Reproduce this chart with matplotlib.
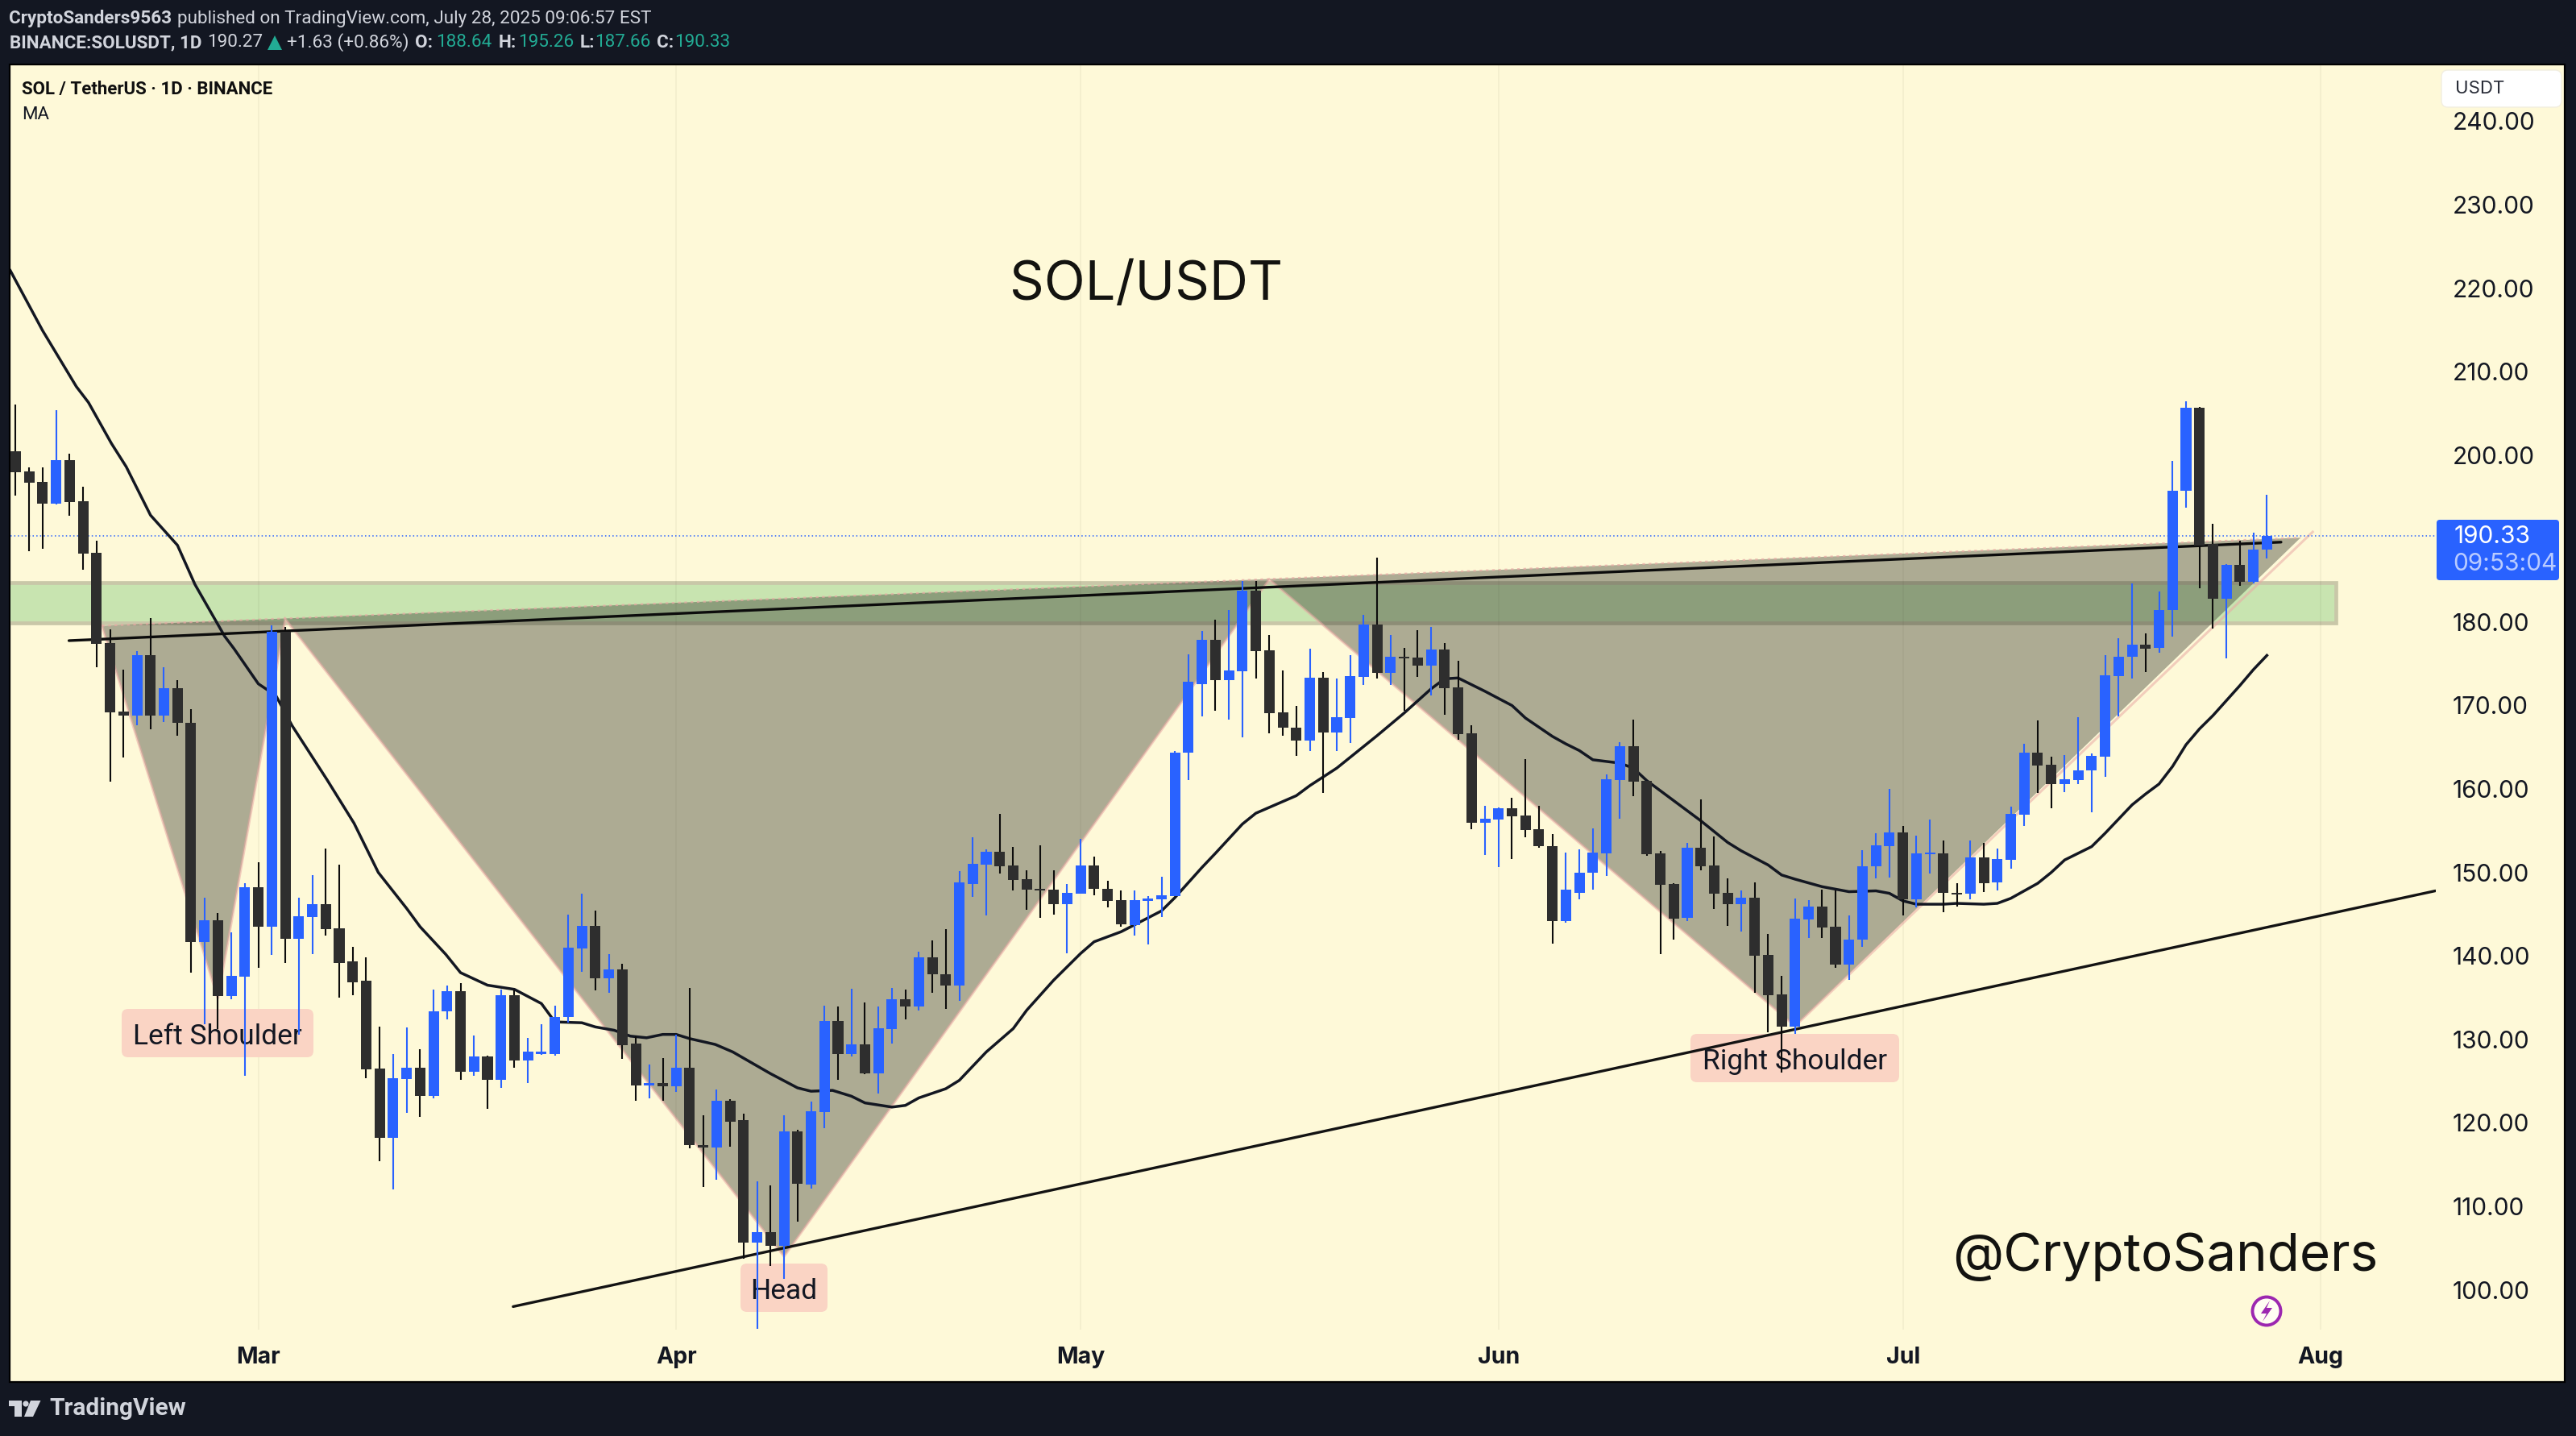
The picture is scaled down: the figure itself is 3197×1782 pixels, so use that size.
"""SOL/USDT daily candles with an inverse head and shoulders, TradingView style."""
import matplotlib
matplotlib.use("Agg")
import matplotlib.pyplot as plt
import numpy as np
from matplotlib.patches import Circle, FancyBboxPatch, Polygon, Rectangle

# days are counted from Mar 1 2025; the first bar is Feb 11
first_day = -18
opens = [
    200.5, 198.0, 196.8, 194.2, 199.4, 194.5, 188.3, 177.5, 169.3, 168.8,
    176.0, 168.8, 172.1, 167.9, 141.7, 144.3, 135.2, 137.5, 148.2, 143.5,
    178.8, 142.1, 144.7, 146.2, 143.3, 139.4, 137.0, 126.5, 118.2, 125.3,
    126.6, 123.2, 133.4, 135.8, 126.1, 128.0, 125.2, 135.3, 127.5, 128.3,
    128.3, 132.7, 140.9, 143.6, 137.3, 138.4, 129.5, 124.5, 124.8, 124.4,
    126.6, 117.3, 117.1, 122.7, 120.3, 105.7, 106.9, 105.3, 119.0, 112.6,
    121.3, 132.2, 128.3, 129.4, 125.9, 131.2, 134.8, 133.9, 139.8, 137.8,
    136.5, 148.6, 150.9, 152.5, 150.8, 149.2, 148.0, 147.9, 146.2, 147.5,
    150.8, 148.0, 146.7, 143.7, 146.6, 146.8, 147.2, 164.4, 172.6, 177.9,
    173.0, 174.1, 183.8, 176.6, 169.2, 167.3, 165.8, 173.3, 166.8, 168.5,
    173.4, 179.7, 173.9, 175.8, 175.7, 174.8, 176.7, 172.2, 166.7, 156.0,
    156.3, 157.7, 156.8, 155.2, 153.2, 144.2, 147.6, 150.0, 152.3, 161.1,
    165.1, 161.0, 152.3, 148.6, 144.6, 153.0, 150.8, 147.6, 146.2, 147.0,
    140.1, 135.4, 131.5, 144.4, 145.9, 143.5, 139.0, 142.0, 150.7, 153.2,
    154.8, 146.8, 152.2, 152.3, 147.6, 147.5, 151.8, 148.8, 151.5, 156.9,
    164.4, 162.9, 160.6, 161.1, 162.2, 163.9, 173.5, 175.8, 177.3, 176.9,
    181.4, 195.7, 205.7, 189.4, 182.8, 186.8, 184.8, 188.64,
]
highs = [
    206.1, 198.5, 198.5, 205.4, 200.2, 196.2, 189.7, 179.1, 174.3, 176.5,
    180.5, 174.6, 173.0, 169.6, 147.0, 145.1, 142.8, 148.7, 151.2, 179.6,
    179.4, 147.0, 149.7, 152.9, 150.9, 141.1, 139.8, 131.5, 128.3, 131.4,
    128.8, 136.0, 136.5, 136.7, 130.5, 128.1, 136.0, 136.0, 130.2, 131.8,
    134.0, 145.0, 147.5, 145.4, 140.2, 139.1, 130.4, 127.0, 127.8, 130.6,
    136.2, 120.9, 124.0, 122.8, 121.1, 113.0, 112.5, 120.9, 119.2, 122.6,
    134.0, 133.9, 136.1, 134.4, 133.9, 136.2, 136.0, 140.5, 141.9, 143.2,
    150.2, 154.2, 152.8, 157.0, 153.1, 150.3, 153.3, 150.3, 148.6, 154.0,
    151.9, 149.0, 147.8, 147.8, 147.2, 149.5, 164.5, 176.1, 178.9, 180.3,
    181.4, 184.9, 184.9, 178.4, 174.2, 170.0, 176.8, 174.0, 173.2, 176.0,
    180.9, 187.7, 178.4, 176.9, 179.0, 179.4, 177.5, 175.4, 167.6, 158.0,
    157.8, 158.9, 163.6, 158.0, 154.6, 152.4, 152.8, 155.3, 161.7, 165.6,
    168.3, 161.0, 152.6, 148.7, 153.5, 158.8, 154.3, 149.3, 147.8, 148.8,
    142.6, 137.6, 146.9, 146.7, 147.9, 147.8, 144.9, 152.7, 154.7, 160.0,
    155.6, 154.4, 156.3, 153.8, 148.7, 153.8, 153.5, 152.9, 157.9, 165.4,
    168.2, 163.9, 164.1, 168.6, 164.3, 176.0, 178.1, 184.6, 178.6, 183.7,
    199.3, 206.4, 205.8, 191.8, 186.9, 189.7, 190.7, 195.26,
]
lows = [
    195.1, 188.5, 188.8, 194.1, 192.7, 186.3, 174.6, 160.9, 163.8, 167.6,
    167.2, 168.0, 166.4, 138.0, 131.8, 131.2, 134.8, 125.6, 138.6, 140.1,
    139.2, 130.6, 140.2, 142.4, 135.0, 135.3, 125.4, 115.4, 112.0, 121.2,
    120.7, 122.9, 132.4, 125.2, 125.6, 121.7, 124.2, 126.6, 124.8, 128.2,
    128.1, 132.0, 138.1, 135.9, 135.6, 127.7, 122.7, 122.9, 122.7, 123.7,
    117.0, 112.3, 113.2, 117.2, 103.7, 95.3, 102.9, 101.3, 108.2, 112.1,
    119.4, 125.2, 128.0, 125.8, 123.5, 129.5, 132.4, 133.5, 135.6, 133.7,
    134.6, 147.1, 144.9, 149.9, 147.8, 145.5, 144.6, 145.0, 140.3, 147.5,
    147.3, 145.8, 143.5, 142.4, 141.4, 144.7, 147.2, 161.1, 168.7, 169.4,
    168.3, 166.2, 173.2, 166.7, 166.4, 164.0, 164.5, 159.5, 164.5, 165.5,
    172.5, 173.2, 172.5, 169.4, 173.4, 171.2, 168.9, 165.9, 155.2, 152.1,
    150.6, 151.6, 154.2, 153.0, 141.5, 144.0, 146.8, 147.9, 149.6, 156.4,
    159.1, 152.0, 140.2, 142.0, 144.2, 150.3, 145.6, 143.6, 142.9, 135.6,
    130.9, 126.0, 130.7, 142.2, 142.2, 138.6, 137.1, 141.1, 149.3, 149.4,
    144.9, 145.8, 149.9, 145.2, 145.9, 146.8, 147.7, 147.8, 150.5, 155.6,
    159.5, 157.7, 159.6, 160.6, 157.2, 161.5, 168.7, 173.2, 174.0, 176.3,
    178.3, 193.7, 184.0, 179.2, 175.6, 184.3, 184.6, 187.66,
]
closes = [
    197.9, 196.7, 194.2, 199.4, 194.4, 188.2, 177.4, 169.2, 168.8, 176.0,
    168.8, 172.1, 167.9, 141.7, 144.3, 135.2, 137.6, 148.2, 143.5, 178.8,
    142.1, 144.8, 146.2, 143.2, 139.2, 136.8, 126.4, 118.2, 125.4, 126.6,
    123.2, 133.4, 135.8, 126.1, 128.0, 125.2, 135.3, 127.5, 128.5, 128.5,
    132.7, 141.0, 143.6, 137.3, 138.4, 129.3, 124.5, 124.8, 124.4, 126.6,
    117.3, 117.1, 122.7, 120.1, 105.7, 106.9, 105.3, 119.0, 112.7, 121.4,
    132.2, 128.3, 129.4, 125.9, 131.3, 134.8, 133.9, 139.8, 137.8, 136.5,
    148.8, 151.0, 152.5, 150.7, 149.1, 147.9, 147.8, 146.2, 147.6, 150.8,
    148.0, 146.6, 143.8, 146.7, 146.9, 147.3, 164.4, 172.8, 177.9, 173.0,
    174.2, 183.8, 176.5, 169.1, 167.3, 165.8, 173.3, 166.8, 168.6, 173.5,
    179.7, 173.9, 175.8, 175.6, 174.8, 176.7, 172.1, 166.6, 156.0, 156.4,
    157.7, 156.7, 155.1, 153.2, 144.2, 147.9, 150.0, 152.4, 161.2, 165.1,
    160.9, 152.2, 148.5, 144.5, 153.0, 150.7, 147.5, 146.2, 147.0, 140.0,
    135.3, 131.5, 144.5, 145.9, 143.4, 139.0, 142.0, 150.7, 153.3, 154.8,
    146.8, 152.3, 152.4, 147.6, 147.4, 151.8, 148.7, 151.6, 157.0, 164.4,
    162.8, 160.6, 161.2, 162.2, 164.0, 173.6, 175.8, 177.3, 176.8, 181.4,
    195.7, 205.7, 189.2, 182.8, 186.8, 184.8, 188.7, 190.33,
]

ma_days = [
    -18.4, -16, -13.5, -12.6, -10.9, -9.8, -8, -6, -4.7, -2.5, -1.8, 0, 1.3, 2.5, 5.1, 7.1, 8.9,
    11, 12, 13.9, 15, 17, 19, 21, 22, 24, 25, 26.4, 27.6, 28.8, 30, 31, 32, 33.9, 35.2, 38,
    40, 41, 42.6, 44, 45, 47, 48, 49, 51, 52, 54, 56, 57, 59, 61, 62, 64, 67, 68, 70, 71, 73,
    74, 77, 78, 80, 81, 82, 83, 85, 87, 88, 89, 91, 93, 94, 96, 97, 98, 99, 101, 102, 103,
    105, 107, 109, 110, 112, 113, 114, 116, 118, 120, 121, 122, 123, 125, 126, 128, 129,
    130, 132, 133, 134, 136, 137, 138, 139, 140, 141, 142, 143, 144, 145, 146, 147, 148, 149,
]
ma_values = [
    222.1, 214.9, 208.2, 206.3, 201.4, 198.6, 192.8, 189.2, 184.5, 178.3, 176.8, 172.6, 171.2, 167.6, 161.1, 155.9, 150.0,
    145.7, 143.5, 140.2, 138.0, 136.5, 136.0, 134.3, 132.1, 132.0, 131.5, 131.1, 130.4, 130.2, 130.6, 130.6, 130.1, 129.4, 128.5, 125.9,
    124.2, 123.8, 123.9, 123.2, 122.4, 121.9, 122.1, 123.0, 124.1, 125.1, 128.5, 131.3, 133.5, 137.1, 140.3, 141.7, 142.9, 145.4, 147.0, 150.6, 152.3, 155.8,
    157.1, 159.2, 160.4, 162.5, 163.8, 165.1, 166.4, 169.1, 172.0, 173.2, 173.3, 171.7, 170.0, 168.5, 166.3, 165.4, 164.6, 163.5, 163.1, 162.5, 161.0,
    158.6, 156.2, 153.6, 152.6, 150.9, 149.7, 149.2, 148.3, 147.7, 147.8, 147.5, 146.6, 146.2, 146.2, 146.3, 146.2, 146.3,
    146.9, 148.7, 150.0, 151.5, 153.1, 154.7, 156.4, 158.1, 159.4, 160.6, 162.7, 165.3, 167.2, 168.8, 170.6, 172.4, 174.3, 176.0,
]

# head and shoulders drawing: left start, L shoulder, neck, head, neck, R shoulder, end
pattern_days = [-11.6, -3, 2, 39, 75, 114, 152.4]
pattern_prices = [179.55, 134.9, 180.35, 104.0, 185.1, 131.6, 190.8]
neck_end = (151.5, 190.1)

neckline_days = [-14.05, 150.05]
neckline_prices = [177.77, 189.57]
support_days = [18.9, 161.5]
support_prices = [98.0, 147.8]
zone_days = [-30, 154.1]
zone_prices = [179.9, 184.7]
last_price = 190.33

month_days = [0, 31, 61, 92, 122, 153]
month_labels = ["Mar", "Apr", "May", "Jun", "Jul", "Aug"]
price_ticks = [100, 110, 120, 130, 140, 150, 160, 170, 180, 200, 210, 220, 230, 240]

BG = "#131722"
CREAM = "#fef9d8"
BLUE = "#2962ff"
DARK = "#2e2e2e"
LIGHT = "#d1d4dc"
TEAL = "#22ab94"
SANS = ["Inter", "DejaVu Sans"]
HEAD = ["Roboto", "DejaVu Sans"]

W, H = 3197, 1782
# pane edges in pixels, and the pixel scale of the two axes
L, R, T, B = 12.7, 3023.0, 80.0, 1650.0
PX_DAY, X_MAR = 16.73, 320.6
PX_USD, Y_100 = 10.36, 1600.7

plt.rcParams["font.family"] = SANS

fig = plt.figure(figsize=(W / 100, H / 100), dpi=100, facecolor=BG)

# full-figure pixel layer, for the frame and the chrome
bg = fig.add_axes([0, 0, 1, 1], zorder=0)
bg.set_xlim(0, W)
bg.set_ylim(H, 0)
bg.axis("off")
bg.add_patch(Rectangle((L - 0.7, T), 3184 - L, 1715 - T, fc=CREAM, ec="black", lw=1.6))
px = bg.transData

ax = fig.add_axes([L / W, 1 - B / H, (R - L) / W, (B - T) / H], zorder=1)
ax.patch.set_alpha(0)
ax.set_xlim((L - X_MAR) / PX_DAY, (R - X_MAR) / PX_DAY)
ax.set_ylim(100 + (Y_100 - B) / PX_USD, 100 + (Y_100 - T) / PX_USD)
for spine in ax.spines.values():
    spine.set_visible(False)
ax.yaxis.tick_right()
ax.set_yticks(price_ticks, [f"{p:.2f}" for p in price_ticks], fontsize=21.5, color="#131722")
ax.set_xticks(month_days, month_labels, fontsize=20.5, fontweight="bold", color="#131722")
ax.tick_params(axis="y", length=0, pad=15)
ax.tick_params(axis="x", length=0, pad=15)

# month grid
for d in month_days:
    ax.axvline(d, color="#3a3a20", alpha=0.055, lw=1.3, zorder=2.5)

# green zone
ax.add_patch(Rectangle((zone_days[0], zone_prices[0]), zone_days[1] - zone_days[0],
                       zone_prices[1] - zone_prices[0],
                       fc="#c8e4b0", ec="#c9c7a8", lw=3.4, zorder=1))

# pattern fill and edges
fill_pts = list(zip(pattern_days[:-1], pattern_prices[:-1])) + [neck_end]
ax.add_patch(Polygon(fill_pts, closed=True, fc="#34362c", alpha=0.4, ec="none", zorder=2))
ax.plot(pattern_days, pattern_prices, color="#e9a9a4", alpha=0.55, lw=2.2, zorder=2.2,
        solid_joinstyle="miter")
ax.plot([pattern_days[0], neck_end[0]], [pattern_prices[0], neck_end[1]], color="#e9a9a4",
        alpha=0.7, lw=1.6, ls=(0, (1.5, 2)), zorder=2.2)

# last price line
ax.axhline(last_price, color=BLUE, lw=1.1, ls=(0, (1, 2)), zorder=2.6)

# moving average and drawn trend lines
ax.plot(ma_days, ma_values, color="#131722", lw=2.5, zorder=3, solid_joinstyle="round")
ax.plot(support_days, support_prices, color="#131313", lw=2.4, zorder=4.2, solid_capstyle="round")
ax.plot(neckline_days, neckline_prices, color="#0c0c0c", lw=2.4, zorder=3.2, solid_capstyle="round")

# candles
days = first_day + np.arange(len(opens))
o, h, l, c = map(np.array, (opens, highs, lows, closes))
up = c >= o
colors = np.where(up, BLUE, DARK)
wick_colors = np.where(up, BLUE, "#0c0c0c")
ax.vlines(days, l, h, colors=wick_colors, lw=1.5, zorder=6)
ax.bar(days, np.abs(c - o), bottom=np.minimum(o, c), width=0.78, color=colors, lw=0, zorder=6.5)

# pattern labels: box x, box y, box w, box h, text
label_boxes = [
    (151, 1252, 238, 60, "Left Shoulder"),
    (919, 1568, 108, 60, "Head"),
    (2098, 1283, 259, 60, "Right Shoulder"),
]
for bx, by, bw, bh, text in label_boxes:
    ax.add_patch(FancyBboxPatch((bx + 8, by + 8), bw - 16, bh - 16,
                                boxstyle="round,pad=8,rounding_size=8", transform=px,
                                fc="#fad4c4", ec="none", clip_on=False, zorder=4))
    ax.text(bx + bw / 2, by + bh / 2 + 4, text, transform=px, ha="center", va="center",
            fontsize=25.5, color="#131722", zorder=5, family=HEAD)

ax.text(1422.5, 372, "SOL/USDT", transform=px, ha="center", va="baseline", fontsize=48,
        color="#131310", zorder=5)
ax.text(2687.5, 1577, "@CryptoSanders", transform=px, ha="center", va="baseline", fontsize=47.2,
        color="#131310", zorder=5)

# price label on the axis and the currency button
ax.add_patch(FancyBboxPatch((3028, 649), 144, 67, boxstyle="round,pad=4,rounding_size=4",
                            transform=px, fc=BLUE, ec="none", clip_on=False, zorder=7))
ax.text(3046, 666, "190.33", transform=px, va="center", fontsize=21.5, color="white", zorder=8)
ax.text(3044, 700, "09:53:04", transform=px, va="center", fontsize=21.5, color="#b9cbff", zorder=8)
ax.add_patch(FancyBboxPatch((3038, 95), 133, 30, boxstyle="round,pad=8,rounding_size=8",
                            transform=px, fc="white", ec="#f2eee0", lw=1, clip_on=False, zorder=7))
ax.text(3047, 110, "USDT", transform=px, va="center", fontsize=16, color="#2a2e39", zorder=8)

# pane legend
ax.text(27, 111, "SOL / TetherUS · 1D · BINANCE", transform=px, va="center", fontsize=16,
        fontweight="bold", color="#0f0f0f", zorder=8, family=HEAD)
ax.text(27, 143, "MA", transform=px, va="center", fontsize=16, color="#131722", zorder=8, family=HEAD)

# lightning mark at the last bar
bg_bolt = [(2817, 1614), (2806, 1630), (2813, 1630), (2808, 1640), (2820, 1623), (2813, 1623)]
ax.add_patch(Circle((2813, 1627), 17.5, transform=px, fc="#fffdf2", ec="#9c27b0", lw=2.8,
                    clip_on=False, zorder=7))
ax.add_patch(Polygon(bg_bolt, closed=True, transform=px, fc="#9c27b0", ec="none", clip_on=False, zorder=7.5))

# header lines: x start, text, colour, weight
line1 = [
    (11.5, "CryptoSanders9563", LIGHT, "bold"),
    (220, "published on TradingView.com, July 28, 2025 09:06:57 EST", LIGHT, "normal"),
]
line2 = [
    (11.5, "BINANCE:SOLUSDT, 1D", LIGHT, "bold"),
    (257, "190.27", LIGHT, "normal"),
    (356, "+1.63 (+0.86%)", LIGHT, "normal"),
    (515, "O:", LIGHT, "bold"),
    (541, "188.64", TEAL, "normal"),
    (619, "H:", LIGHT, "bold"),
    (643, "195.26", TEAL, "normal"),
    (720, "L:", LIGHT, "bold"),
    (738, "187.66", TEAL, "normal"),
    (815, "C:", LIGHT, "bold"),
    (837, "190.33", TEAL, "normal"),
]
for y, line in ((23, line1), (53, line2)):
    for x, text, color, weight in line:
        bg.text(x, y, text, va="center", fontsize=16.2, color=color, fontweight=weight, family=HEAD)
bg.add_patch(Polygon([(332, 62), (350, 62), (341, 44)], closed=True, fc=TEAL, ec="none"))

# TradingView logo and wordmark
bg.add_patch(Polygon([(10.5, 1738), (27, 1738), (27, 1758), (18, 1758), (18, 1745), (10.5, 1745)],
                     closed=True, fc=LIGHT, ec="none"))
bg.add_patch(Circle((32, 1742), 3.6, fc=LIGHT, ec="none"))
bg.add_patch(Polygon([(38, 1738), (50.5, 1738), (41, 1758), (30, 1758)], closed=True, fc=LIGHT, ec="none"))
bg.text(61, 1748, "TradingView", va="center", fontsize=21.5, fontweight="bold", color=LIGHT, family=HEAD)

fig.savefig("out.png", dpi=100, facecolor=BG)
